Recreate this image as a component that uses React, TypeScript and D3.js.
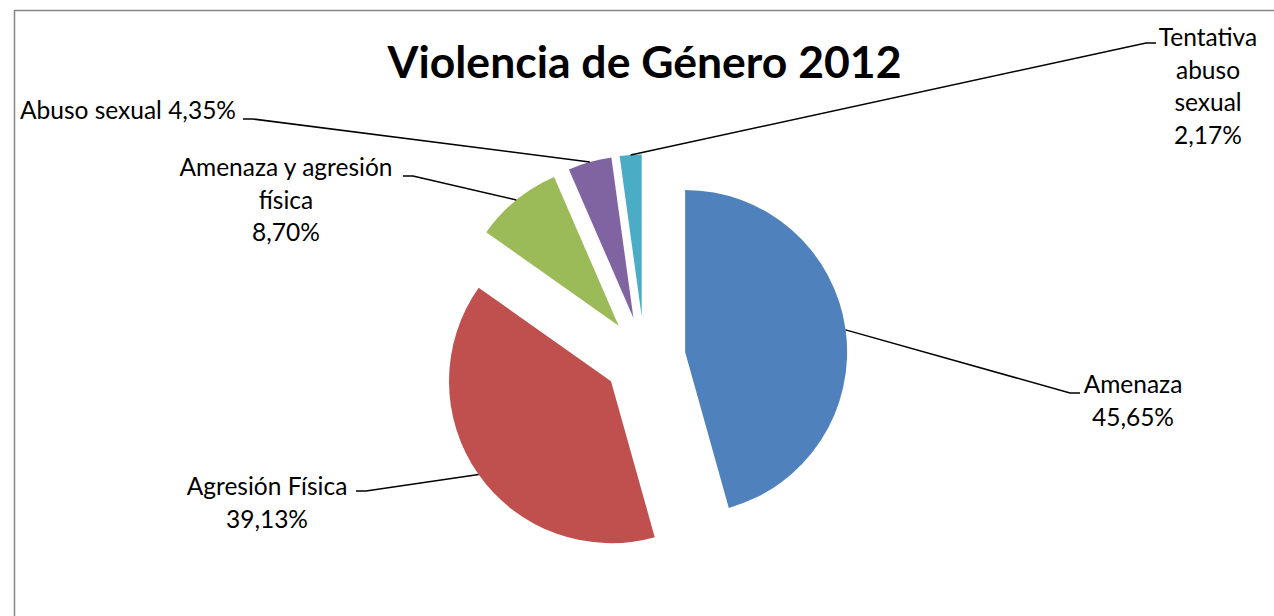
import { useEffect } from 'react'
import * as d3 from 'd3'

// Violencia de Género 2012 - casos por tipo
const categories = ['Amenaza', 'Agresión Física', 'Amenaza y agresión física', 'Abuso sexual', 'Tentativa abuso sexual']
const counts = [21, 18, 4, 2, 1]
const colors = ['#4F81BD', '#C0504D', '#9BBB59', '#8064A2', '#4BACC6']

// how excel wrapped each data label (last flag: percent on same line)
const labelLines = [['Amenaza'], ['Agresión Física'], ['Amenaza y agresión', 'física'], ['Abuso sexual'], ['Tentativa', 'abuso', 'sexual']]
const pctSameLine = [false, false, false, true, false]

// label boxes: text centre x, first baseline, point where leader line meets the label
const labelPos = [
    { tx: 1133, ty: 393, lx: 1080, ly: 393 },
    { tx: 267, ty: 495, lx: 356, ly: 491 },
    { tx: 286, ty: 176, lx: 403, ly: 176 },
    { tx: 128, ty: 119, lx: 243, ly: 119 },
    { tx: 1208, ty: 46, lx: 1156, ly: 43 },
]

const width = 1274
const height = 616
const cx = 644.5
const cy = 357.5
const radius = 162
const explode = 41
const font = 'Lato, "Liberation Sans", sans-serif'

export default function App() {
    useEffect(() => {
        document.body.style.margin = '0'
    }, [])

    const total = d3.sum(counts)
    const fmt = (v: number) => ((v / total) * 100).toFixed(2).replace('.', ',') + '%'

    const pie = d3.pie<number>().sort(null).value(d => d)
    const arcs = pie(counts)
    const arc = d3.arc<d3.PieArcDatum<number>>().innerRadius(0).outerRadius(radius)

    return (
        <svg width={width} height={height} style={{ display: 'block', background: '#fff' }}>
            <rect x={14.5} y={10.5} width={1400} height={800} fill="#fff" stroke="#868686" strokeWidth={1.5} />
            <text x={cx} y={78} textAnchor="middle" fontFamily={font} fontWeight="bold" fontSize={44.5} fill="#000">
                Violencia de Género 2012
            </text>
            <g transform={`translate(${cx},${cy})`}>
                {arcs.map((a, i) => {
                    const mid = (a.startAngle + a.endAngle) / 2
                    const dx = Math.sin(mid) * explode
                    const dy = -Math.cos(mid) * explode
                    return <path key={i} d={arc(a) || ''} fill={colors[i]} transform={`translate(${dx},${dy})`} />
                })}
            </g>
            {arcs.map((a, i) => {
                const mid = (a.startAngle + a.endAngle) / 2
                const px = cx + Math.sin(mid) * (explode + radius)
                const py = cy - Math.cos(mid) * (explode + radius)
                const p = labelPos[i]
                const stub = p.lx < px ? p.lx + 10 : p.lx - 10
                const lines = pctSameLine[i]
                    ? [labelLines[i].join(' ') + ' ' + fmt(counts[i])]
                    : [...labelLines[i], fmt(counts[i])]
                return (
                    <g key={categories[i]}>
                        <polyline points={`${px},${py} ${stub},${p.ly} ${p.lx},${p.ly}`} fill="none" stroke="#000" strokeWidth={1.5} />
                        <text textAnchor="middle" fontFamily={font} fontSize={24.5} fill="#000">
                            {lines.map((t, j) => (
                                <tspan key={j} x={p.tx} y={p.ty + j * 32.6}>{t}</tspan>
                            ))}
                        </text>
                    </g>
                )
            })}
        </svg>
    )
}
